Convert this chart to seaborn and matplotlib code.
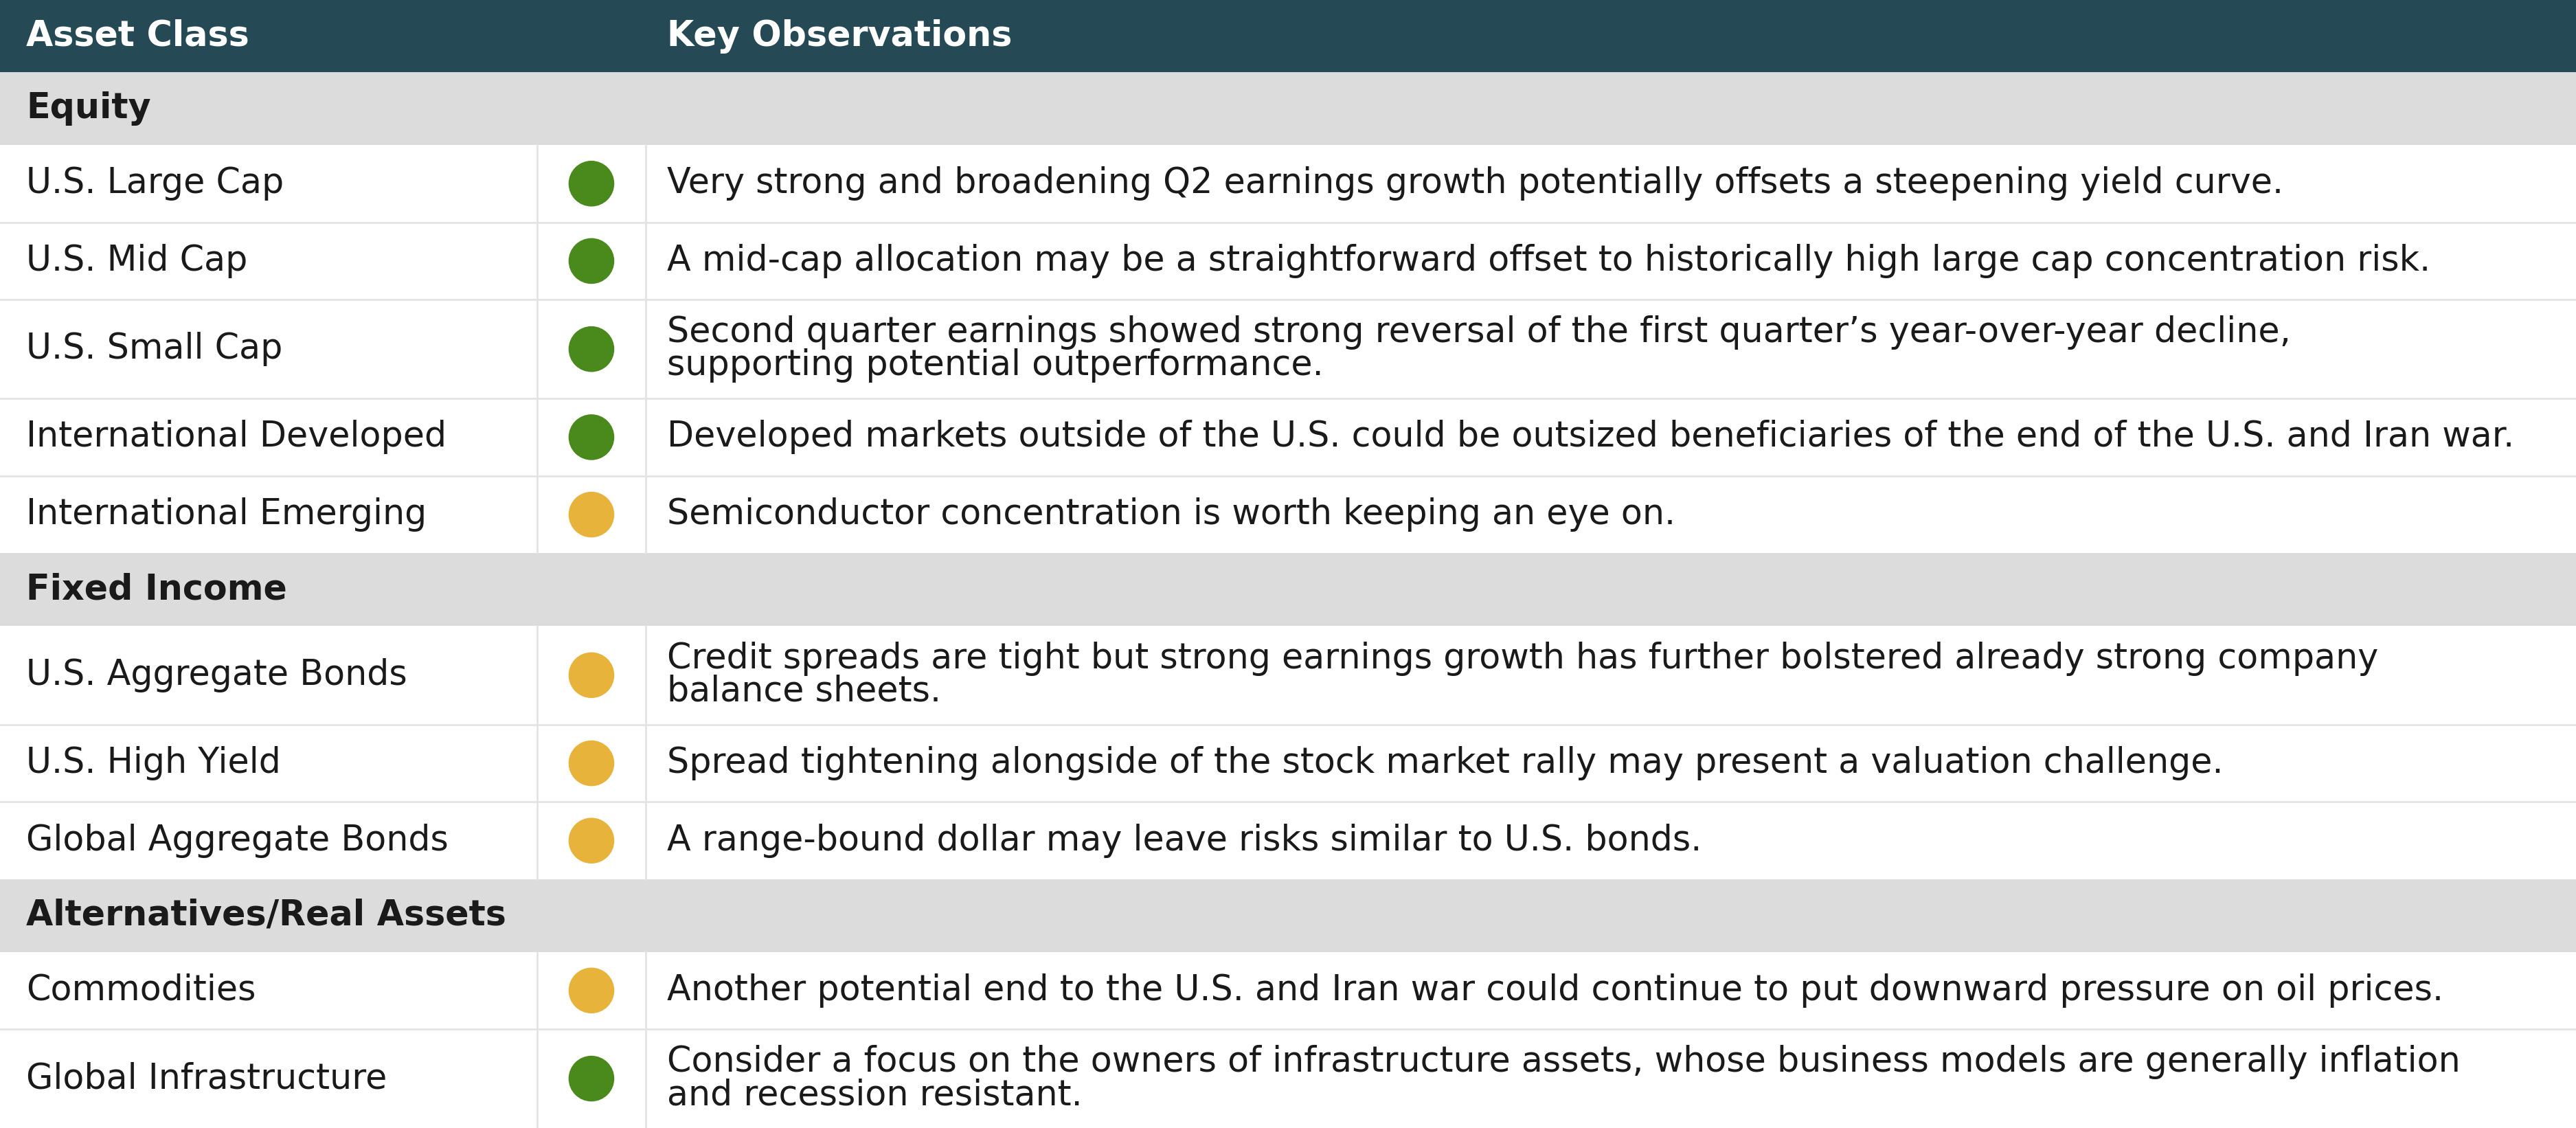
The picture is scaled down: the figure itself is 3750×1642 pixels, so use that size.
import matplotlib
matplotlib.use("Agg")
import matplotlib.pyplot as plt
import seaborn as sns
import pandas as pd

sns.set_theme(style="white")
plt.rcParams['font.family'] = ['DejaVu Sans']

header = ["Asset Class", "Key Observations"]
sections = ["Equity", "Fixed Income", "Alternatives/Real Assets"]
section_of = [0, 0, 0, 0, 0, 1, 1, 1, 2, 2]
assets = ["U.S. Large Cap", "U.S. Mid Cap", "U.S. Small Cap", "International Developed",
          "International Emerging", "U.S. Aggregate Bonds", "U.S. High Yield",
          "Global Aggregate Bonds", "Commodities", "Global Infrastructure"]
status = ["green", "green", "green", "green", "yellow", "yellow", "yellow", "yellow", "yellow", "green"]
observations = [
    "Very strong and broadening Q2 earnings growth potentially offsets a steepening yield curve.",
    "A mid-cap allocation may be a straightforward offset to historically high large cap concentration risk.",
    "Second quarter earnings showed strong reversal of the first quarter\u2019s year-over-year decline,\nsupporting potential outperformance.",
    "Developed markets outside of the U.S. could be outsized beneficiaries of the end of the U.S. and Iran war.",
    "Semiconductor concentration is worth keeping an eye on.",
    "Credit spreads are tight but strong earnings growth has further bolstered already strong company\nbalance sheets.",
    "Spread tightening alongside of the stock market rally may present a valuation challenge.",
    "A range-bound dollar may leave risks similar to U.S. bonds.",
    "Another potential end to the U.S. and Iran war could continue to put downward pressure on oil prices.",
    "Consider a focus on the owners of infrastructure assets, whose business models are generally inflation\nand recession resistant.",
]

W, H = 1568, 685
fig = plt.figure(figsize=(37.5, 16.42), dpi=100)
ax = fig.add_axes([0, 0, 1, 1])
ax.set_xlim(0, W)
ax.set_ylim(H, 0)
ax.axis("off")

HDR, SEC, ONE, TWO = 44, 44, 47, 60
FS = 36.5
dark = "#264a55"
gray = "#dcdcdc"
line = "#e3e3e3"
txt = "#1a1a1a"
X1, XD1, XD2, X2, XDOT = 16, 327, 393, 406, 360

ax.add_patch(plt.Rectangle((0, 0), W, HDR, color=dark, lw=0))
ax.text(X1, HDR / 2, header[0], color="white", fontsize=FS, fontweight="bold", va="center")
ax.text(X2, HDR / 2, header[1], color="white", fontsize=FS, fontweight="bold", va="center")

y = HDR
dots = []
prev_sec = -1
for i, a in enumerate(assets):
    s = section_of[i]
    if s != prev_sec:
        ax.add_patch(plt.Rectangle((0, y), W, SEC, color=gray, lw=0))
        ax.text(X1, y + SEC / 2, sections[s], color=txt, fontsize=FS, fontweight="bold", va="center")
        y += SEC
        prev_sec = s
    h = TWO if "\n" in observations[i] else ONE
    c = y + h / 2
    ax.text(X1, c, a, color=txt, fontsize=FS, va="center")
    ax.text(X2, c, observations[i], color=txt, fontsize=FS, va="center", linespacing=0.95)
    ax.plot([XD1, XD1], [y, y + h], color=line, lw=2)
    ax.plot([XD2, XD2], [y, y + h], color=line, lw=2)
    if i + 1 < len(assets) and section_of[i + 1] == s:
        ax.plot([0, W], [y + h, y + h], color=line, lw=2)
    dots.append((XDOT, c, status[i]))
    y += h

df = pd.DataFrame(dots, columns=["x", "y", "status"])
sns.scatterplot(data=df, x="x", y="y", hue="status",
                palette={"green": "#4a8a1c", "yellow": "#e8b33a"},
                s=2300, linewidth=0, legend=False, ax=ax, zorder=5)
ax.set_xlim(0, W)
ax.set_ylim(H, 0)
ax.axis("off")
fig.savefig("out.png", dpi=100)
